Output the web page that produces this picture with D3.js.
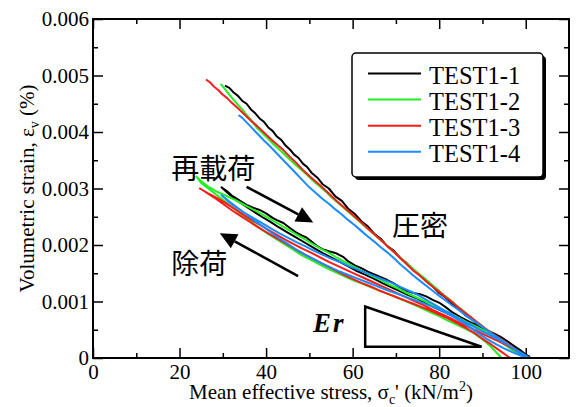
<!DOCTYPE html>
<html>
<head>
<meta charset="utf-8">
<script src="https://cdnjs.cloudflare.com/ajax/libs/d3/7.8.5/d3.min.js"></script>
<style>
body{margin:0;background:#fff;}
svg{display:block;}
</style>
</head>
<body>
<script>
// values: [mean effective stress (kN/m2), volumetric strain]
// each test = consolidation, then unloading, then reloading
var test1_1 = [
  [30.5,0.00482],[31.5,0.00478],[32.5,0.00470],[33.5,0.00464],[34.5,0.00455],[35.5,0.00450],[36.5,0.00440],[37.5,0.00433],
  [38.5,0.00424],[39.5,0.00418],[40.5,0.00408],[41.5,0.00402],[42.5,0.00392],[43.5,0.00386],[44.5,0.00376],[45.5,0.00369],
  [46.5,0.00360],[47.5,0.00354],[48.5,0.00344],[49.5,0.00338],[50.5,0.00328],[52,0.00318],[53,0.00308],[54.5,0.00300],
  [56,0.00286],[57.5,0.00278],[59,0.00264],[60.5,0.00255],[62,0.00242],[63.5,0.00233],[65,0.00220],[66.5,0.00211],
  [68,0.00198],[69.5,0.00190],[71,0.00177],[72.5,0.00168],[74,0.00156],[75.5,0.00147],[77,0.00136],[78.5,0.00127],
  [80,0.00115],[81.5,0.00107],[83,0.00096],[84.5,0.00088],[86,0.00076],[87.5,0.00069],[89,0.00058],[90.5,0.00051],
  [92,0.00041],[93.5,0.00035],[95,0.00025],[96.5,0.00019],[98,0.00010],[99.5,0.00006],[100.8,0.00000],
  [99,0.00008],[97,0.00018],[95,0.00027],[93,0.00036],[91,0.00045],[89,0.00053],[87,0.00060],[85,0.00067],[83,0.00075],
  [81,0.00082],[79,0.00089],[77,0.00097],[75,0.00105],[73,0.00111],[71,0.00118],[69,0.00125],[67,0.00132],[65,0.00140],
  [63,0.00147],[61,0.00154],[59,0.00162],[57,0.00170],[55,0.00178],[53,0.00186],[51,0.00195],[49,0.00204],[47,0.00213],
  [45,0.00222],[43,0.00231],[41,0.00241],[39,0.00250],[37,0.00260],[35,0.00270],[33,0.00280],[31,0.00293],[29.7,0.00302],
  [31,0.00295],[32,0.00288],[33,0.00283],[34,0.00278],[35.5,0.00271],[37,0.00266],[38.5,0.00262],[40,0.00256],[41.5,0.00248],
  [42.5,0.00244],[44,0.00239],[45.5,0.00230],[47,0.00222],[48.2,0.00217],[49.4,0.00213],[50.5,0.00206],[52,0.00197],
  [53.2,0.00192],[54.5,0.00189],[56,0.00186],[57.8,0.00179],[59,0.00171],[60.5,0.00164],[62,0.00159],[63.5,0.00153],
  [65,0.00148],[66.5,0.00143],[68,0.00138],[69.5,0.00132],[71,0.00125],[72.5,0.00119],[74,0.00115],[75.6,0.00113],
  [77,0.00109],[78.5,0.00103],[80.2,0.00097],[81.5,0.00090],[83,0.00081],[84.8,0.00073],[86,0.00068],[87.5,0.00062],
  [89.4,0.00055],[91,0.00049],[92.5,0.00044],[94.1,0.00038],[95.5,0.00031],[97,0.00023],[98.7,0.00014],[100,0.00006],[101,0.00002]
];

var test1_2 = [
  [29.5,0.00485],[30.5,0.00476],[31.5,0.00466],[32.5,0.00457],[33.5,0.00448],[34.5,0.00440],[35.5,0.00430],[36.5,0.00422],
  [37.8,0.00408],[39,0.00399],[40.5,0.00388],[42,0.00376],[43.5,0.00366],[45,0.00355],[46.5,0.00344],[48,0.00334],
  [49.5,0.00324],[51,0.00313],[52.5,0.00303],[54,0.00293],[55.5,0.00282],[57,0.00272],[58.5,0.00262],[60,0.00252],
  [61.5,0.00242],[63,0.00232],[64.5,0.00222],[66,0.00212],[67.5,0.00202],[69,0.00191],[70.5,0.00181],[72,0.00171],
  [73.5,0.00161],[75,0.00151],[76.5,0.00142],[78,0.00132],[79.5,0.00122],[81,0.00112],[82.5,0.00103],[84,0.00093],
  [85.5,0.00084],[87,0.00074],[88.5,0.00065],[90,0.00056],[91.5,0.00046],[93,0.00037],[94.5,0.00028],[96,0.00019],
  [97.5,0.00011],[99,0.00005],[100.5,0.00000],
  [98.5,0.00010],[96.5,0.00020],[94.5,0.00030],[92.5,0.00039],[90.5,0.00048],[88.5,0.00056],[86.5,0.00063],[84.5,0.00071],
  [82.5,0.00079],[80.5,0.00086],[78.5,0.00093],[76.5,0.00101],[74.5,0.00108],[72.5,0.00115],[70.5,0.00123],[68.5,0.00130],
  [66.5,0.00138],[64.5,0.00145],[62.5,0.00153],[60.5,0.00161],[58.5,0.00169],[56.5,0.00177],[54.5,0.00186],[52.5,0.00194],
  [50.5,0.00203],[48.5,0.00212],[46.5,0.00221],[44.5,0.00230],[42.5,0.00239],[40.5,0.00248],[38.5,0.00257],[36.5,0.00265],
  [34.5,0.00273],[32.5,0.00281],[30.5,0.00288],[28.5,0.00295],[26.5,0.00304],[25,0.00313],[23.9,0.00321],
  [25,0.00310],[26.5,0.00301],[28,0.00292],[30,0.00280],[32,0.00268],[34,0.00256],[36,0.00245],[38,0.00233],[40,0.00222],
  [42,0.00212],[44,0.00203],[46,0.00193],[48,0.00183],[50,0.00175],[52,0.00167],[54,0.00159],[56,0.00152],[58,0.00145],
  [60,0.00138],[62,0.00132],[64,0.00126],[66,0.00120],[68,0.00114],[70,0.00108],[72,0.00101],[74,0.00095],[76,0.00088],
  [78,0.00081],[80,0.00074],[82,0.00066],[84,0.00059],[86,0.00052],[88,0.00044],[90,0.00033],[92,0.00020],[94.4,0.00000]
];

var test1_3 = [
  [26.1,0.00493],[27,0.00488],[28,0.00480],[29,0.00474],[30,0.00466],[31,0.00460],[32,0.00452],[33.5,0.00442],[35,0.00431],
  [36.5,0.00420],[38,0.00410],[39.5,0.00399],[41,0.00388],[42.5,0.00378],[44,0.00368],[45.5,0.00356],[47,0.00345],
  [48.5,0.00333],[50,0.00322],[51.5,0.00312],[53,0.00302],[54.5,0.00291],[56,0.00280],[57.5,0.00270],[59,0.00260],
  [60.5,0.00250],[62,0.00240],[63.5,0.00229],[65,0.00219],[66.5,0.00209],[68,0.00198],[69.5,0.00188],[71,0.00177],
  [72.5,0.00166],[74,0.00155],[75.5,0.00146],[77,0.00136],[78.5,0.00126],[80,0.00117],[81.5,0.00108],[83,0.00099],
  [84.5,0.00089],[86,0.00080],[87.5,0.00071],[89,0.00062],[90.5,0.00053],[92,0.00045],[93.5,0.00037],[95,0.00029],
  [96.5,0.00021],[98,0.00013],[99.5,0.00006],[100.8,0.00000],
  [98.5,0.00010],[96.5,0.00019],[94.5,0.00027],[92.5,0.00034],[90.5,0.00041],[88.5,0.00049],[86.5,0.00056],[84.5,0.00063],
  [82.5,0.00071],[80.5,0.00078],[78.5,0.00085],[76.5,0.00093],[74.5,0.00100],[72.5,0.00107],[70.5,0.00114],[68.5,0.00121],
  [66.5,0.00128],[64.5,0.00135],[62.5,0.00142],[60.5,0.00149],[58.5,0.00156],[56.5,0.00163],[54.5,0.00170],[52.5,0.00178],
  [50.5,0.00186],[48.5,0.00193],[46.5,0.00201],[44.5,0.00209],[42.5,0.00218],[40.5,0.00227],[38.5,0.00236],[36.5,0.00245],
  [34.5,0.00255],[32.5,0.00265],[30.5,0.00275],[28.5,0.00284],[26.5,0.00292],[24.7,0.00300],
  [26,0.00294],[28,0.00284],[30,0.00273],[32,0.00262],[34,0.00252],[36,0.00242],[38,0.00232],[40,0.00223],[42,0.00214],
  [44,0.00205],[46,0.00196],[48,0.00187],[50,0.00179],[52,0.00171],[54,0.00163],[56,0.00155],[58,0.00147],[60,0.00140],
  [62,0.00133],[64,0.00127],[66,0.00120],[68,0.00114],[70,0.00108],[72,0.00102],[74,0.00096],[76,0.00090],[78,0.00084],
  [80,0.00077],[82,0.00070],[84,0.00062],[86,0.00054],[88,0.00045],[90,0.00034],[92,0.00024],[94,0.00013],[96.4,0.00000]
];

var test1_4 = [
  [33.6,0.00430],[34.5,0.00425],[35.5,0.00417],[36.5,0.00409],[37.5,0.00401],[38.5,0.00393],[39.5,0.00385],[41,0.00374],
  [42.5,0.00362],[44,0.00350],[45.5,0.00338],[47,0.00326],[48.5,0.00314],[50,0.00302],[51.5,0.00292],[53,0.00282],
  [54.5,0.00273],[56,0.00263],[57.5,0.00254],[59,0.00244],[60.5,0.00235],[62,0.00225],[63.5,0.00215],[65,0.00206],
  [66.5,0.00196],[68,0.00187],[69.5,0.00177],[71,0.00166],[72.5,0.00156],[74,0.00146],[75.5,0.00137],[77,0.00128],
  [78.5,0.00119],[80,0.00110],[81.5,0.00102],[83,0.00093],[84.5,0.00085],[86,0.00076],[87.5,0.00068],[89,0.00060],
  [90.5,0.00052],[92,0.00044],[93.5,0.00036],[95,0.00028],[96.5,0.00020],[98,0.00012],[99.5,0.00005],[101,0.00000],
  [99,0.00009],[97,0.00018],[95,0.00027],[93,0.00035],[91,0.00043],[89,0.00051],[87,0.00060],[85,0.00068],[83,0.00077],
  [81,0.00085],[79,0.00094],[77,0.00103],[75,0.00112],[73,0.00119],[71,0.00126],[69,0.00133],[67,0.00139],[65,0.00145],
  [63,0.00151],[61,0.00157],[59,0.00163],[57,0.00170],[55,0.00176],[53,0.00183],[51,0.00190],[49,0.00198],[47,0.00205],
  [45,0.00213],[43,0.00221],[41,0.00230],[39,0.00239],[37,0.00248],[35,0.00257],[33,0.00267],[31,0.00279],[29.7,0.00288],
  [31,0.00280],[33,0.00268],[35,0.00257],[37,0.00245],[39,0.00234],[41,0.00223],[43,0.00212],[45,0.00202],[47,0.00192],
  [49,0.00183],[51,0.00175],[53,0.00167],[55,0.00160],[57,0.00153],[59,0.00147],[61,0.00141],[63,0.00135],[65,0.00129],
  [67,0.00123],[69,0.00117],[71,0.00112],[73,0.00106],[75,0.00101],[77,0.00095],[79,0.00089],[81,0.00082],[83,0.00074],
  [85,0.00065],[87,0.00055],[89,0.00044],[91,0.00034],[93,0.00025],[95,0.00017],[97,0.00010],[99,0.00004],[100.5,0.00000]
];

var testNames = ['TEST1-1','TEST1-2','TEST1-3','TEST1-4'];
var testColors = ['#000000','#22ee22','#ff1a1a','#1a8cff'];

var xTicks = [0,20,40,60,80,100];
var xMinorTicks = [10,30,50,70,90];
var yTicks = [0,0.001,0.002,0.003,0.004,0.005,0.006];
var yMinorTicks = [0.0005,0.0015,0.0025,0.0035,0.0045,0.0055];

// annotations (data units)
var erTriangle = [[62.9,0.00091],[62.9,0.00020],[89.8,0.00020]];
var arrowReload = [[35.5,0.00303],[50.9,0.00240]];
var arrowUnload = [[47.4,0.00145],[29.3,0.00221]];
var notes = [
  {text:'再載荷', x:18.1, y:0.00317},
  {text:'除荷', x:18.1, y:0.00149},
  {text:'圧密', x:69.1, y:0.00216}
];

var W = 577, H = 407;
var margin = {t:19,r:8,b:49,l:93};
var serif = "'Liberation Serif','Times New Roman',serif";

var svg = d3.select('body').append('svg')
    .attr('width',W)
    .attr('height',H);

var x = d3.scaleLinear().domain([0,110]).range([margin.l, W-margin.r]);
var y = d3.scaleLinear().domain([0,0.006]).range([H-margin.b, margin.t]);

var yFmt = function(d){ return d === 0 ? '0' : d3.format('.3f')(d); };

function styleAxis(g){
    g.select('.domain').remove();
    g.attr('font-family',serif).attr('font-size',21);
    g.selectAll('line').attr('stroke','#000').attr('stroke-width',1.5);
    g.selectAll('text').attr('fill','#000');
}

// bottom
svg.append('g').attr('transform','translate(0,'+y(0)+')')
    .call(d3.axisBottom(x).tickValues(xTicks).tickSize(-10).tickSizeOuter(0).tickPadding(6).tickFormat(d3.format('d')))
    .call(styleAxis);
svg.append('g').attr('transform','translate(0,'+y(0)+')')
    .call(d3.axisBottom(x).tickValues(xMinorTicks).tickSize(-5).tickSizeOuter(0).tickFormat(''))
    .call(styleAxis);
// top
svg.append('g').attr('transform','translate(0,'+y(0.006)+')')
    .call(d3.axisTop(x).tickValues(xTicks).tickSize(-10).tickSizeOuter(0).tickFormat(''))
    .call(styleAxis);
svg.append('g').attr('transform','translate(0,'+y(0.006)+')')
    .call(d3.axisTop(x).tickValues(xMinorTicks).tickSize(-5).tickSizeOuter(0).tickFormat(''))
    .call(styleAxis);
// left
svg.append('g').attr('transform','translate('+x(0)+',0)')
    .call(d3.axisLeft(y).tickValues(yTicks).tickSize(-10).tickSizeOuter(0).tickPadding(4).tickFormat(yFmt))
    .call(styleAxis);
svg.append('g').attr('transform','translate('+x(0)+',0)')
    .call(d3.axisLeft(y).tickValues(yMinorTicks).tickSize(-5).tickSizeOuter(0).tickFormat(''))
    .call(styleAxis);
// right
svg.append('g').attr('transform','translate('+x(110)+',0)')
    .call(d3.axisRight(y).tickValues(yTicks).tickSize(-10).tickSizeOuter(0).tickFormat(''))
    .call(styleAxis);
svg.append('g').attr('transform','translate('+x(110)+',0)')
    .call(d3.axisRight(y).tickValues(yMinorTicks).tickSize(-5).tickSizeOuter(0).tickFormat(''))
    .call(styleAxis);

// Er triangle
svg.append('path')
    .attr('d', d3.line().x(function(d){return x(d[0]);}).y(function(d){return y(d[1]);})(erTriangle) + 'Z')
    .attr('fill','none')
    .attr('stroke','#000')
    .attr('stroke-width',2.5);

// data lines
var line = d3.line()
    .x(function(d){ return x(d[0]); })
    .y(function(d){ return y(d[1]); });

var tests = [test1_1, test1_2, test1_3, test1_4];
svg.append('g').selectAll('path')
    .data(tests)
    .enter().append('path')
    .attr('d', line)
    .attr('fill','none')
    .attr('stroke', function(d,i){ return testColors[i]; })
    .attr('stroke-width',2)
    .attr('stroke-linejoin','round');

// frame
svg.append('rect')
    .attr('x',x(0)).attr('y',y(0.006))
    .attr('width',x(110)-x(0)).attr('height',y(0)-y(0.006))
    .attr('fill','none').attr('stroke','#000').attr('stroke-width',2);

// arrows
function arrow(a){
    var x0 = x(a[0][0]), y0 = y(a[0][1]), x1 = x(a[1][0]), y1 = y(a[1][1]);
    var ang = Math.atan2(y1-y0, x1-x0);
    var L = 17, hw = 8;
    var bx = x1 - L*Math.cos(ang), by = y1 - L*Math.sin(ang);
    svg.append('line')
        .attr('x1',x0).attr('y1',y0).attr('x2',bx).attr('y2',by)
        .attr('stroke','#000').attr('stroke-width',2.5);
    svg.append('path')
        .attr('d','M'+x1+','+y1+
            'L'+(bx + hw*Math.sin(ang))+','+(by - hw*Math.cos(ang))+
            'L'+(bx - hw*Math.sin(ang))+','+(by + hw*Math.cos(ang))+'Z')
        .attr('fill','#000');
}
arrow(arrowReload);
arrow(arrowUnload);

// Japanese notes
svg.selectAll('.note')
    .data(notes)
    .enter().append('text')
    .attr('class','note')
    .attr('x',function(d){ return x(d.x); })
    .attr('y',function(d){ return y(d.y); })
    .attr('font-family',"'Noto Sans CJK JP','Noto Sans CJK SC',sans-serif")
    .attr('font-size',28)
    .attr('fill','#000')
    .text(function(d){ return d.text; });

// E_r label
svg.append('text')
    .attr('x',313).attr('y',332)
    .attr('font-family',serif)
    .attr('font-size',27)
    .attr('font-weight','bold')
    .attr('font-style','italic')
    .attr('letter-spacing',2)
    .text('Er');

// legend
var leg = svg.append('g');
leg.append('rect').attr('x',355).attr('y',56).attr('width',191).attr('height',124).attr('rx',4).attr('fill','#000');
leg.append('rect').attr('x',352).attr('y',53).attr('width',191).attr('height',124).attr('rx',4)
    .attr('fill','#fff').attr('stroke','#000').attr('stroke-width',1.5);
testNames.forEach(function(name,i){
    var ly = 73.5 + i*26.1;
    leg.append('line').attr('x1',368).attr('x2',421).attr('y1',ly).attr('y2',ly)
        .attr('stroke',testColors[i]).attr('stroke-width',2);
    leg.append('text').attr('x',429).attr('y',ly+10.5)
        .attr('font-family',serif).attr('font-size',24.5).attr('fill','#000')
        .text(name);
});

// axis titles
var xt = svg.append('text')
    .attr('x',(x(0)+x(110))/2).attr('y',399)
    .attr('text-anchor','middle')
    .attr('font-family',serif).attr('font-size',21).attr('fill','#000');
xt.append('tspan').text('Mean effective stress, σ');
xt.append('tspan').attr('font-size',14).attr('dy',5).text('c');
xt.append('tspan').attr('dy',-5).text("' (kN/m");
xt.append('tspan').attr('font-size',14).attr('dy',-8).text('2');
xt.append('tspan').attr('dy',8).text(')');

var yt = svg.append('text')
    .attr('transform','translate(34,'+((y(0)+y(0.006))/2)+') rotate(-90)')
    .attr('text-anchor','middle')
    .attr('font-family',serif).attr('font-size',21).attr('fill','#000');
yt.append('tspan').text('Volumetric strain, ε');
yt.append('tspan').attr('font-size',14).attr('dy',5).text('v');
yt.append('tspan').attr('dy',-5).text(' (%)');
</script>
</body>
</html>
